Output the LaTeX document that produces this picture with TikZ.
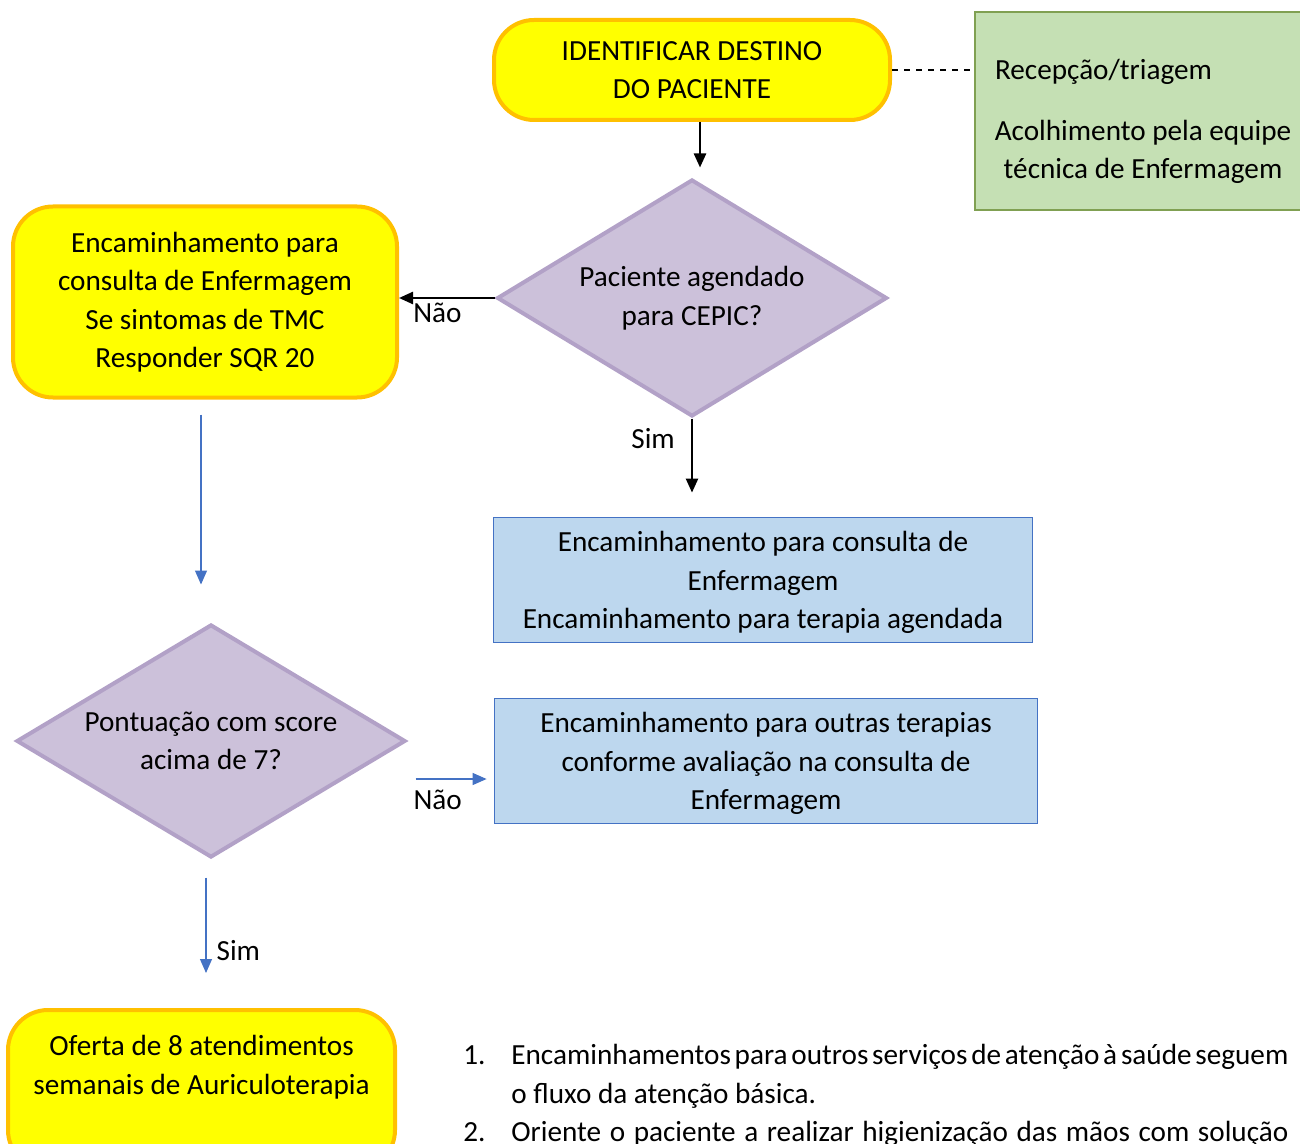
\documentclass[tikz,border=0pt]{standalone}
\usepackage{fontspec}
\setmainfont{Carlito}
\usetikzlibrary{shapes.geometric, arrows.meta, positioning, calc}
\definecolor{boxYellow}{RGB}{255, 255, 0}
\definecolor{boxOrange}{RGB}{255, 192, 0}
\definecolor{askFill}{RGB}{204, 193, 218}
\definecolor{askDraw}{RGB}{178, 161, 199}
\definecolor{infoFill}{RGB}{189, 215, 238}
\definecolor{infoDraw}{RGB}{68, 114, 196}
\definecolor{noteFill}{RGB}{197, 224, 180}
\definecolor{noteDraw}{RGB}{128, 160, 82}
\newcommand{\flowfont}{\fontsize{14.6pt}{19.25pt}\selectfont}
\tikzset{
  yellowbox/.style={
    rectangle, rounded corners=20pt,
    draw=boxOrange, fill=boxYellow, line width=2pt,
    align=center, font=\flowfont
  },
  askbox/.style={
    diamond, aspect=1.65, inner sep=1pt,
    draw=askDraw, fill=askFill, line width=2pt,
    align=center, font=\flowfont
  },
  infobox/.style={
    rectangle,
    draw=infoDraw, fill=infoFill, line width=0.9pt,
    align=center, font=\flowfont, text depth=0pt
  },
  notebox/.style={
    rectangle,
    draw=noteDraw, fill=noteFill, line width=0.9pt,
    font=\flowfont
  },
  blackarrow/.style={
    -{Triangle[length=7pt,width=6pt]}, line width=1.2pt, color=black
  },
  bluearrow/.style={
    -{Triangle[length=7pt,width=6pt]}, line width=0.6pt, color=infoDraw
  },
  answer/.style={font=\flowfont, text=black, inner sep=2pt}
}
\begin{document}
\begin{tikzpicture}[x=0.5pt, y=-0.5pt]
\useasboundingbox (0,0) rectangle (1300,1144);

% --- top ---
\node[yellowbox, minimum width=198pt, minimum height=50pt] (dest) at (692,70)
  {IDENTIFICAR DESTINO\\DO PACIENTE};
\node[notebox, text width=154pt, inner xsep=7pt, align=flush center,
  minimum height=99pt] (triage) at (1143,111)
  {\rule{0pt}{21pt}\hspace*{3pt}Recepção/triagem\hfill\null\\[11pt]Acolhimento pela equipe\\técnica de Enfermagem};
\draw[dashed, line width=0.6pt] (dest.east) -- (dest.east -| triage.west);

% --- first question ---
\node[askbox, minimum width=195pt, minimum height=118.5pt] (scheduled) at (692,298)
  {Paciente agendado\\para CEPIC?};
\node[yellowbox, minimum width=192pt, minimum height=95.5pt] (nursing) at (205,302)
  {Encaminhamento para\\consulta de Enfermagem\\Se sintomas de TMC\\Responder SQR 20};
\node[infobox, minimum width=269.5pt, minimum height=62.5pt] (therapy) at (763,580)
  {Encaminhamento para consulta de\\Enfermagem\\Encaminhamento para terapia agendada};

\draw[blackarrow, shorten >=5pt] ([xshift=4pt]dest.south) -- ([xshift=4pt]scheduled.north);
\draw[blackarrow] (scheduled.west) -- (scheduled.west -| nursing.east)
  node[answer, pos=0.6, below] {Não};
\draw[blackarrow, shorten >=12pt] (scheduled.south) -- (therapy.north -| scheduled.south)
  node[answer, pos=0.2, left, xshift=-6pt] {Sim};

% --- second question ---
\node[askbox, minimum width=194.5pt, minimum height=116.5pt] (score) at (211,741)
  {Pontuação com score\\acima de 7?};
\node[infobox, minimum width=271.5pt, minimum height=62.5pt] (others) at (766,761)
  {Encaminhamento para outras terapias\\conforme avaliação na consulta de\\Enfermagem};
\node[yellowbox, minimum width=193.5pt, minimum height=80pt, anchor=north] (offer) at (201.5,1008)
  {Oferta de 8 atendimentos\\semanais de Auriculoterapia\\\strut};

\draw[bluearrow, shorten <=7.5pt, shorten >=19pt] ([xshift=-2pt]nursing.south) -- ([xshift=-2pt]nursing.south |- score.north);
\draw[bluearrow, shorten <=4pt, shorten >=3.5pt] ([yshift=-19pt]score.east) -- ([yshift=-19pt]score.east -| others.west)
  node[answer, pos=0.35, below, yshift=-3pt] {Não};
\draw[bluearrow, shorten <=9pt, shorten >=17.5pt] ([xshift=-2.5pt]score.south) -- ([xshift=-2.5pt]score.south |- offer.north)
  node[answer, pos=0.61, right, xshift=3pt] {Sim};

% --- notes ---
\node[font=\flowfont, text width=412.5pt, align=justify, anchor=north west, inner sep=0pt] (notes) at (463,1044)
  {\hangindent=24pt\hangafter=1\noindent\makebox[24pt][l]{1.}{\spaceskip=1.4pt plus 2pt minus 0.4pt Encaminhamentos para outros serviços de atenção à saúde seguem}\linebreak[4] o fluxo da atenção básica.\par
   \hangindent=24pt\hangafter=1\parfillskip=0pt\noindent\makebox[24pt][l]{2.}Oriente o paciente a realizar higienização das mãos com solução\par};

\end{tikzpicture}
\end{document}
